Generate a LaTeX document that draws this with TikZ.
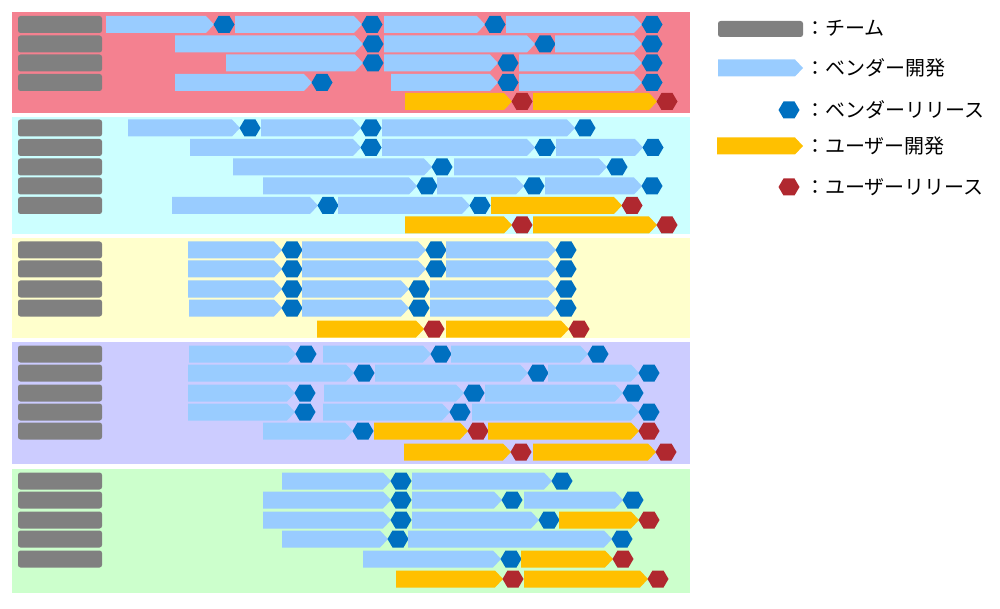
\documentclass[tikz,border=0pt]{standalone}
\usepackage{fontspec}
\setmainfont{Noto Sans CJK JP}
\definecolor{bandpink}{HTML}{F48190}
\definecolor{bandcyan}{HTML}{CCFFFF}
\definecolor{bandyellow}{HTML}{FFFFCC}
\definecolor{bandpurple}{HTML}{CCCCFF}
\definecolor{bandgreen}{HTML}{CCFFCC}
\definecolor{teamgray}{HTML}{808080}
\definecolor{vendorblue}{HTML}{99CCFF}
\definecolor{vendorrel}{HTML}{0070C0}
\definecolor{useryellow}{HTML}{FFC000}
\definecolor{userrel}{HTML}{B0282F}
\tikzset{%
    team/.style={fill=teamgray, rounded corners=2.5pt},
    v-bar/.style={fill=vendorblue},
    u-bar/.style={fill=useryellow},
    v-rel/.style={fill=vendorrel},
    u-rel/.style={fill=userrel},
    legend-text/.style={anchor=west, inner sep=0pt,
        font=\fontsize{20}{24}\selectfont}
}
% bar with a pointed end: style, start, tip, row
\newcommand{\devbar}[4]{%
    \fill[#1] (#2, #4-8.5) -- (#3-8, #4-8.5) -- (#3, #4) --
        (#3-8, #4+8.5) -- (#2, #4+8.5) -- cycle;}
% release hexagon: style, centre x, row
\newcommand{\relhex}[3]{%
    \fill[#1] (#2+10.5, #3) -- (#2+5.5, #3+8.5) -- (#2-5.5, #3+8.5) --
        (#2-10.5, #3) -- (#2-5.5, #3-8.5) -- (#2+5.5, #3-8.5) -- cycle;}
% one row of bars, each one ended by its release
\newcommand{\taskrow}[2]{%
    \foreach \xa/\xh/\kind in {#2}{%
        \devbar{\kind-bar}{\xa}{\xh-10}{#1}
        \relhex{\kind-rel}{\xh}{#1}
    }}

\begin{document}
\begin{tikzpicture}[x=1pt, y=-1pt]
    \useasboundingbox (0, 0) rectangle (1000, 609);

    % Bands
    \fill[bandpink]   (12, 12)  rectangle (690, 113);
    \fill[bandcyan]   (12, 117) rectangle (690, 234);
    \fill[bandyellow] (12, 238) rectangle (690, 338);
    \fill[bandpurple] (12, 342) rectangle (690, 464);
    \fill[bandgreen]  (12, 469) rectangle (690, 593);

    % Teams
    \foreach \y in {24.5, 44, 63, 82.5,
                    128, 147.5, 167, 186, 205.5,
                    250, 269, 289, 308,
                    354, 373, 393, 412, 431,
                    481, 500, 520, 539, 559}{%
        \fill[team] (18, \y-8.5) rectangle (102, \y+8.5);
    };

    %%% Band 1
    \taskrow{24.5}{106/224/v, 235/372/v, 384/495/v, 506/652/v}
    \taskrow{44}{175/373/v, 384/545/v, 555/652/v}
    \taskrow{63}{226/373/v, 384/508/v, 519/652/v}
    \taskrow{82.5}{175/322/v, 391/508/v, 519/652/v}
    \taskrow{101.5}{405/522/u, 533/667/u}

    %%% Band 2
    \taskrow{128}{128/250/v, 261/371/v, 382/585/v}
    \taskrow{147.5}{190/371/v, 382/545/v, 556/653/v}
    \taskrow{167}{233/442/v, 454/617/v}
    \taskrow{186}{263/427/v, 437/534/v, 545/652/v}
    \taskrow{205.5}{172/328/v, 338/480/v, 491/632/u}
    \taskrow{225}{405/522/u, 533/667/u}

    %%% Band 3
    \taskrow{250}{188/292/v, 302/436/v, 446/566/v}
    \taskrow{269}{188/292/v, 302/436/v, 446/566/v}
    \taskrow{289}{188/292/v, 302/419/v, 430/566/v}
    \taskrow{308}{189/292/v, 302/419/v, 430/566/v}
    \taskrow{329}{317/434/u, 446/579/u}

    %%% Band 4
    \taskrow{354}{189/306/v, 323/441/v, 451/598/v}
    \taskrow{373}{188/364/v, 375/538/v, 548/649/v}
    \taskrow{393}{188/305/v, 324/474/v, 485/633/v}
    \taskrow{412}{188/305/v, 323/460/v, 472/649/v}
    \taskrow{431}{263/363/v, 374/478/u, 488/649/u}
    \taskrow{452}{404/521/u, 533/666/u}

    %%% Band 5
    \taskrow{481}{282/401/v, 412/562/v}
    \taskrow{500}{263/401/v, 412/512/v, 524/633/v}
    \taskrow{520}{263/401/v, 412/549/v, 559/649/u}
    \taskrow{539}{282/398/v, 408/622/v}
    \taskrow{559}{363/511/v, 521/623/u}
    \taskrow{579}{396/513/u, 524/658/u}

    %%% Legend
    \fill[team] (718, 21) rectangle (803, 37);
    \devbar{v-bar}{718}{803}{68}
    \relhex{v-rel}{789}{110}
    \devbar{u-bar}{717}{803}{146}
    \relhex{u-rel}{789}{187}

    \node[legend-text] (lg-team)    at (805, 28.5) {：チーム};
    \node[legend-text] (lg-vdev)    at (805, 68)   {：ベンダー開発};
    \node[legend-text] (lg-vrel)    at (805, 110)  {：ベンダーリリース};
    \node[legend-text] (lg-udev)    at (805, 146)  {：ユーザー開発};
    \node[legend-text] (lg-urel)    at (805, 187)  {：ユーザーリリース};

\end{tikzpicture}
\end{document}
